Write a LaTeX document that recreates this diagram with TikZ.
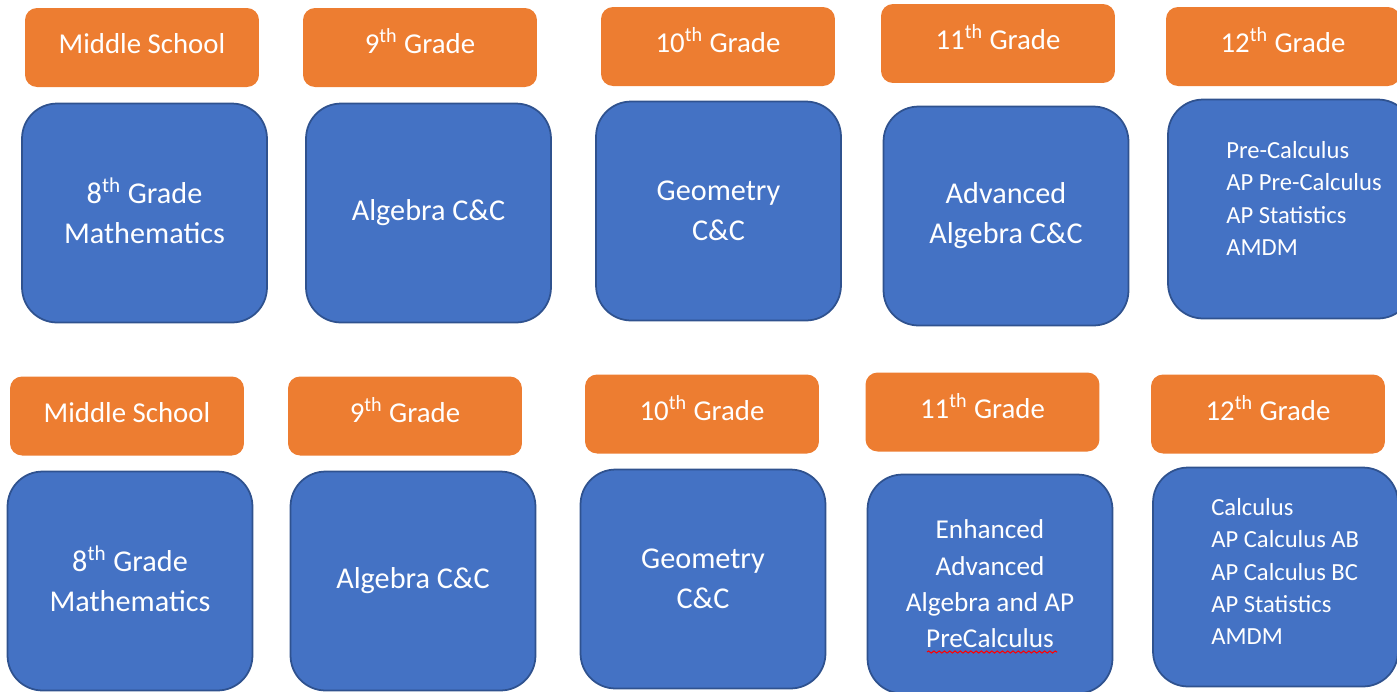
\documentclass[tikz,border=0pt]{standalone}
\usepackage{fontspec}
\setmainfont{Carlito}
\usetikzlibrary{decorations.pathmorphing}
\definecolor{gradeorange}{HTML}{ED7D31}
\definecolor{coursefill}{HTML}{4472C4}
\definecolor{courseline}{HTML}{2F528F}
\newcommand{\ordth}[1]{#1\smash{\textsuperscript{th}}}

\begin{document}
\begin{tikzpicture}[x=0.02cm, y=-0.02cm,
  grade/.style={rectangle, rounded corners=0.24cm, fill=gradeorange, text=white, minimum width=4.68cm, minimum height=1.58cm, inner sep=0pt, text height=10.5pt, text depth=3.3pt, font=\fontsize{16.4}{20}\selectfont},
  course/.style={rectangle, rounded corners=0.7cm, fill=coursefill, draw=courseline, line width=1pt, text=white, minimum width=4.9cm, minimum height=4.38cm, inner sep=0pt, align=center, font=\fontsize{17.2}{22.7}\selectfont},
  courselist/.style={anchor=north west, inner sep=0pt, align=left, text=white, font=\fontsize{14}{18.4}\selectfont}]
  \useasboundingbox (0,0) rectangle (1397,691);
  \clip (0,0) rectangle (1397,691);
  % first pathway
  \node[grade] (ms1) at (142,47.5) {Middle School};
  \node[grade] (g9a) at (420,47.5) {\ordth{9} Grade};
  \node[grade] (g10a) at (718,46.5) {\ordth{10} Grade};
  \node[grade] (g11a) at (998,43.5) {\ordth{11} Grade};
  \node[grade] (g12a) at (1283,46.5) {\ordth{12} Grade};
  \node[course] (c8a) at (144.5,213) {\ordth{8} Grade\\Mathematics};
  \node[course] (c9a) at (428.5,213) {Algebra C\&C};
  \node[course] (c10a) at (718.5,211) {Geometry\\C\&C};
  \node[course] (c11a) at (1006,216) {Advanced\\Algebra C\&C};
  \node[course] (c12a) at (1290.5,209) {};
  \node[courselist] (l12a) at (1226,141) {Pre-Calculus\\AP Pre-Calculus\\AP Statistics\\AMDM};
  % second pathway
  \node[grade] (ms2) at (127,416) {Middle School};
  \node[grade] (g9b) at (405,416) {\ordth{9} Grade};
  \node[grade] (g10b) at (702,414) {\ordth{10} Grade};
  \node[grade] (g11b) at (982.5,412) {\ordth{11} Grade};
  \node[grade] (g12b) at (1268,414) {\ordth{12} Grade};
  \node[course] (c8b) at (130,581) {\ordth{8} Grade\\Mathematics};
  \node[course] (c9b) at (413,581) {Algebra C\&C};
  \node[course] (c10b) at (703,579) {Geometry\\C\&C};
  \node[course, font=\fontsize{15.5}{20.7}\selectfont] (c11b) at (990,584) {Enhanced\\Advanced\\Algebra and AP\\PreCalculus};
  \node[course] (c12b) at (1275.5,577) {};
  \node[courselist] (l12b) at (1211,498) {Calculus\\AP Calculus AB\\AP Calculus BC\\AP Statistics\\AMDM};
  % spelling mark
  \coordinate (sq1) at (927,652);
  \coordinate (sq2) at (1057,652);
  \draw[red, line width=0.6pt, decorate, decoration={snake, amplitude=0.6pt, segment length=3pt}] (sq1) -- (sq2);
\end{tikzpicture}
\end{document}
